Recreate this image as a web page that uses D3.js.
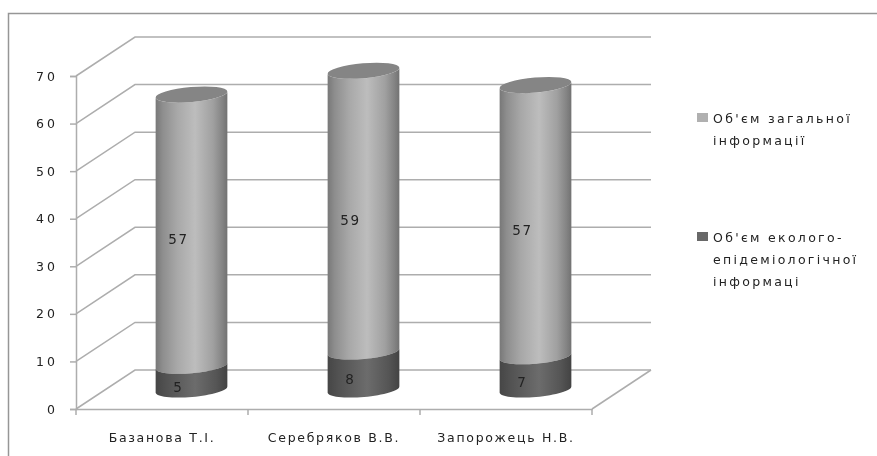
<!DOCTYPE html>
<html>
<head>
<meta charset="utf-8">
<script src="https://cdn.jsdelivr.net/npm/d3@7"></script>
<style>
  html, body { margin: 0; padding: 0; background: #fff; }
  svg { display: block; filter: blur(0.5px); }
  text { font-family: "DejaVu Sans", sans-serif; font-size: 12.5px; fill: #222; letter-spacing: 1.7px; }
</style>
</head>
<body>
<svg id="chart" width="877" height="456"></svg>
<script>
var categories = ["Базанова Т.І.", "Серебряков В.В.", "Запорожець Н.В."];
var generalInfo = [57, 59, 57];
var ecoInfo = [5, 8, 7];
var yTicks = [0, 10, 20, 30, 40, 50, 60, 70];
var legendGeneral = ["Об'єм загальної", "інформації"];
var legendEco = ["Об'єм еколого-", "епідеміологічної", "інформаці"];

var svg = d3.select("#chart");
var defs = svg.append("defs");

var gridColor = "#adadad";
var gridWidth = 1.5;
var depthX = 59, depthY = -39;

var x = d3.scaleBand().domain(categories).range([76, 592]);
var y = d3.scaleLinear().domain([0, 70]).range([409, 76]);

function gradient(id, stops) {
  var g = defs.append("linearGradient").attr("id", id);
  stops.forEach(function(s) {
    g.append("stop").attr("offset", s[0]).attr("stop-color", s[1]);
  });
}
gradient("lightBar", [[0, "#787878"], [0.1, "#8e8e8e"], [0.3, "#a8a8a8"], [0.55, "#bdbdbd"], [0.8, "#a0a0a0"], [0.93, "#848484"], [1, "#727272"]]);
gradient("darkBar", [[0, "#464646"], [0.15, "#525252"], [0.55, "#6c6c6c"], [0.85, "#555555"], [1, "#434343"]]);

// chart frame
svg.append("path")
  .attr("d", "M8.5,456V13.5H877")
  .attr("fill", "none")
  .attr("stroke", "#969696")
  .attr("stroke-width", gridWidth);

// walls and gridlines
var grid = svg.append("g").attr("fill", "none").attr("stroke", gridColor).attr("stroke-width", gridWidth);
yTicks.forEach(function(t) {
  grid.append("path").attr("d", d3.line()([
    [x.range()[0], y(t)],
    [x.range()[0] + depthX, y(t) + depthY],
    [x.range()[1] + depthX, y(t) + depthY]
  ]));
});
grid.append("path").attr("d", d3.line()([
  [x.range()[1], y(0)],
  [x.range()[1] + depthX, y(0) + depthY]
]));

// axes
var axisLeft = d3.axisLeft(y).tickValues(yTicks).tickSize(6).tickPadding(12);
var gy = svg.append("g").attr("transform", "translate(76,0)").call(axisLeft);
gy.select(".domain").attr("stroke", gridColor).attr("stroke-width", gridWidth);
gy.selectAll(".tick line").attr("stroke", gridColor).attr("stroke-width", gridWidth);
gy.selectAll("text").attr("font-size", null).style("letter-spacing", "3px");

var axisBottom = d3.axisBottom(x).tickSize(0).tickPadding(24);
var gx = svg.append("g").attr("transform", "translate(0,409)").call(axisBottom);
gx.select(".domain").attr("stroke", gridColor).attr("stroke-width", gridWidth);

var xEdges = categories.map(function(c) { return x(c); }).concat([x.range()[1]]);
gx.selectAll(".edge").data(xEdges).enter().append("line")
  .attr("class", "edge")
  .attr("x1", function(d) { return d; })
  .attr("x2", function(d) { return d; })
  .attr("y1", 0).attr("y2", 6)
  .attr("stroke", gridColor).attr("stroke-width", gridWidth);

// cylinders stand at mid depth
var rx = 36, ry = 7.5, tilt = -5;
function cx(c) { return x(c) + x.bandwidth() / 2 + depthX / 2; }
function cy(v) { return y(v) + depthY / 2; }

// one point of the tilted ellipse rim, a measured from the right end
function rim(a, px, py) {
  var t = tilt * Math.PI / 180;
  var ex = rx * Math.cos(a), ey = ry * Math.sin(a);
  return [px + ex * Math.cos(t) - ey * Math.sin(t), py + ex * Math.sin(t) + ey * Math.cos(t)];
}

function cylinderPath(px, y0, y1) {
  var front = d3.range(0, 33).map(function(i) { return rim(Math.PI * i / 32, px, y0); });
  var back = d3.range(32, -1, -1).map(function(i) { return rim(Math.PI * i / 32, px, y1); });
  return d3.line()(front.concat(back)) + "Z";
}

var cols = svg.selectAll(".col").data(categories).enter().append("g").attr("class", "col");

cols.append("path")
  .attr("fill", "url(#lightBar)")
  .attr("d", function(c, i) { return cylinderPath(cx(c), cy(ecoInfo[i]), cy(ecoInfo[i] + generalInfo[i])); });

cols.append("path")
  .attr("fill", "url(#darkBar)")
  .attr("d", function(c, i) { return cylinderPath(cx(c), cy(0), cy(ecoInfo[i])); });

cols.append("ellipse")
  .attr("rx", rx).attr("ry", ry)
  .attr("fill", "#858585")
  .attr("transform", function(c, i) {
    return "translate(" + cx(c) + "," + cy(ecoInfo[i] + generalInfo[i]) + ") rotate(" + tilt + ")";
  });

// value labels
cols.append("text")
  .attr("text-anchor", "middle")
  .style("font-size", "13.5px")
  .attr("x", function(c) { return cx(c) - 13; })
  .attr("y", function(c, i) { return cy(ecoInfo[i] + generalInfo[i] / 2) + 14; })
  .text(function(c, i) { return generalInfo[i]; });

cols.append("text")
  .attr("text-anchor", "middle")
  .style("font-size", "13.5px")
  .attr("x", function(c) { return cx(c) - 13; })
  .attr("y", function(c, i) { return cy(ecoInfo[i] / 2) + 14; })
  .text(function(c, i) { return ecoInfo[i]; });

// legend
function legendItem(lines, color, top) {
  svg.append("rect").attr("x", 697).attr("y", top).attr("width", 11).attr("height", 9).attr("fill", color);
  svg.selectAll(null).data(lines).enter().append("text")
    .attr("x", 713)
    .attr("y", function(d, i) { return top + 10 + i * 22; })
    .style("letter-spacing", "2.3px")
    .text(function(d) { return d; });
}
legendItem(legendGeneral, "#b0b0b0", 113);
legendItem(legendEco, "#686868", 232);
</script>
</body>
</html>
